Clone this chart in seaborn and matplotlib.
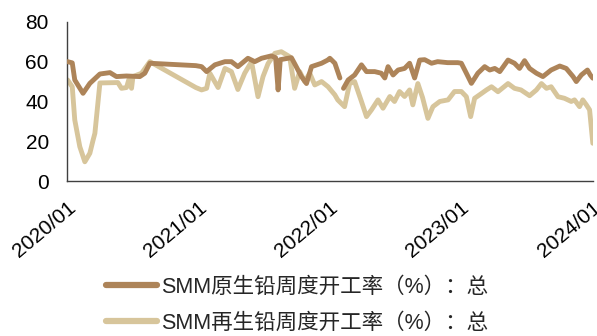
import numpy as np
import pandas as pd
import seaborn as sns
import matplotlib.pyplot as plt
import matplotlib.dates as mdates

# 原生铅周度开工率
primary_dates = [
    '2020-01-03', '2020-01-16', '2020-01-23', '2020-02-15', '2020-03-05', '2020-04-02',
    '2020-04-30', '2020-05-18', '2020-06-15', '2020-07-22', '2020-08-05', '2020-08-19',
    '2020-12-25', '2021-01-10', '2021-01-24', '2021-02-16', '2021-03-16', '2021-04-03',
    '2021-04-21', '2021-05-19', '2021-06-07', '2021-06-26', '2021-07-23', '2021-08-04',
    '2021-08-11', '2021-08-17', '2021-09-17', '2021-09-26', '2021-10-15', '2021-10-29',
    '2021-11-12', '2021-12-10', '2021-12-27', '2022-01-02', '2022-01-16', '2022-01-30',
    '2022-02-04', '2022-02-09', '2022-02-22', '2022-03-12', '2022-03-31', '2022-04-14',
    '2022-05-07', '2022-05-25', '2022-06-04', '2022-06-13', '2022-06-27', '2022-07-11',
    '2022-07-29', '2022-08-12', '2022-08-26', '2022-09-09', '2022-09-23', '2022-10-12',
    '2022-10-29', '2022-11-26', '2022-12-24', '2023-01-03', '2023-01-17', '2023-01-31',
    '2023-02-18', '2023-03-09', '2023-03-23', '2023-04-06', '2023-04-20', '2023-05-13',
    '2023-05-31', '2023-06-14', '2023-06-28', '2023-07-12', '2023-07-31', '2023-08-18',
    '2023-09-10', '2023-10-04', '2023-10-22', '2023-11-10', '2023-11-19', '2023-12-03',
    '2023-12-20', '2023-12-28', '2024-01-04',
]
primary_vals = [
    60.0, 59.4, 50.8, 44.1, 49.1, 53.8,
    54.5, 52.5, 52.8, 52.5, 54.2, 59.2,
    58.0, 57.5, 55.0, 58.4, 60.0, 60.0,
    57.5, 61.7, 60.0, 61.7, 62.9, 62.0,
    45.8, 61.0, 62.0, 59.0, 52.5, 49.0,
    57.5, 59.2, 60.8, 61.7, 59.2, 51.8,
    np.nan, 46.6, 50.8, 53.3, 58.4, 55.0,
    55.0, 54.2, 51.8, 57.5, 53.3, 55.8,
    56.6, 59.2, 51.8, 60.8, 61.0, 59.2,
    60.0, 59.5, 59.5, 59.2, 54.2, 49.1,
    54.2, 57.5, 55.8, 56.6, 55.0, 60.8,
    59.2, 56.6, 60.5, 56.6, 54.2, 52.5,
    55.8, 57.8, 56.6, 52.5, 50.0, 53.3,
    55.8, 53.3, 51.7,
]

# 再生铅周度开工率
secondary_dates = [
    '2020-01-03', '2020-01-16', '2020-01-23', '2020-02-06', '2020-02-20', '2020-03-05',
    '2020-03-14', '2020-03-19', '2020-04-02', '2020-05-22', '2020-06-01', '2020-06-15',
    '2020-06-24', '2020-06-29', '2020-07-03', '2020-07-27', '2020-08-19', '2020-12-25',
    '2021-01-10', '2021-01-24', '2021-02-02', '2021-02-25', '2021-03-16', '2021-04-03',
    '2021-04-21', '2021-05-10', '2021-05-29', '2021-06-16', '2021-06-30', '2021-07-14',
    '2021-08-02', '2021-08-20', '2021-09-12', '2021-09-26', '2021-10-10', '2021-10-24',
    '2021-11-07', '2021-11-21', '2021-12-10', '2021-12-28', '2022-01-16', '2022-01-24',
    '2022-02-12', '2022-02-26', '2022-03-12', '2022-03-31', '2022-04-14', '2022-04-28',
    '2022-05-16', '2022-05-30', '2022-06-18', '2022-07-01', '2022-07-15', '2022-07-29',
    '2022-08-12', '2022-08-21', '2022-09-04', '2022-09-17', '2022-10-02', '2022-10-16',
    '2022-11-04', '2022-11-27', '2022-12-15', '2023-01-03', '2023-01-17', '2023-01-29',
    '2023-02-09', '2023-02-28', '2023-03-14', '2023-03-28', '2023-04-15', '2023-05-13',
    '2023-05-31', '2023-06-18', '2023-07-12', '2023-07-31', '2023-08-14', '2023-08-28',
    '2023-09-10', '2023-09-29', '2023-10-17', '2023-11-05', '2023-11-14', '2023-11-28',
    '2023-12-07', '2023-12-17', '2023-12-26', '2024-01-04',
]
secondary_vals = [
    50.8, 47.4, 30.7, 17.3, 9.7, 14.0,
    20.6, 24.0, 49.3, 49.5, 46.6, 47.0,
    52.5, 46.6, 52.5, 54.2, 60.0, 47.0,
    45.8, 46.6, 54.2, 47.0, 56.6, 55.0,
    46.0, 54.2, 60.0, 42.4, 52.5, 59.0,
    64.2, 65.0, 62.5, 46.6, 55.0, 50.0,
    54.2, 48.3, 50.0, 47.4, 43.3, 40.8,
    37.4, 49.0, 50.0, 40.0, 32.4, 35.8,
    40.8, 36.6, 42.5, 40.0, 45.0, 42.5,
    45.8, 38.3, 49.0, 42.0, 31.5, 37.4,
    40.0, 40.8, 45.0, 45.0, 42.4, 32.4,
    41.6, 44.0, 45.8, 47.4, 44.9, 49.0,
    46.6, 45.8, 42.9, 45.8, 49.0, 46.6,
    47.4, 42.4, 41.6, 40.0, 40.8, 37.4,
    40.8, 38.3, 35.8, 19.0,
]

labels = ['SMM原生铅周度开工率（%）：总', 'SMM再生铅周度开工率（%）：总']
colors = ['#AD8459', '#D7C59B']
tick_dates = ['2020-01-01', '2021-01-01', '2022-01-01', '2023-01-01', '2024-01-01']
y_ticks = [0, 20, 40, 60, 80]

sns.set_style('white')
plt.rcParams['font.family'] = ['Liberation Sans', 'Noto Sans CJK SC', 'DejaVu Sans']

df1 = pd.DataFrame({'date': pd.to_datetime(primary_dates), 'value': primary_vals})
df2 = pd.DataFrame({'date': pd.to_datetime(secondary_dates), 'value': secondary_vals})

fig = plt.figure(figsize=(5.97, 3.36), dpi=100)
ax = fig.add_axes([0.112, 0.461, 0.881, 0.474])

# primary series drawn in its pieces so the missing week shows as a gap
seg = df1['value'].isna().cumsum()
for i, (_, part) in enumerate(df1.dropna().groupby(seg[df1['value'].notna()])):
    sns.lineplot(data=part, x='date', y='value', ax=ax, color=colors[0], lw=3.5,
                 estimator=None, sort=False, label=labels[0] if i == 0 else None, zorder=3)
sns.lineplot(data=df2, x='date', y='value', ax=ax, color=colors[1], lw=3.5,
             estimator=None, sort=False, label=labels[1], zorder=2)

ax.set_ylim(0, 80)
ax.set_yticks(y_ticks)
ax.set_xlim(pd.Timestamp('2020-01-01'), pd.Timestamp('2024-01-04'))
ax.set_xticks(pd.to_datetime(tick_dates))
ax.xaxis.set_major_formatter(mdates.DateFormatter('%Y/%m'))
ax.set_xlabel('')
ax.set_ylabel('')

for s in ['top', 'right']:
    ax.spines[s].set_visible(False)
for s in ['left', 'bottom']:
    ax.spines[s].set_color('#404040')
    ax.spines[s].set_linewidth(1.0)

ax.tick_params(axis='both', which='major', direction='in', length=5, width=1,
               color='#404040', labelsize=15, labelcolor='black')
ax.tick_params(axis='y', pad=13)
ax.tick_params(axis='x', pad=12)
for lab in ax.get_xticklabels():
    lab.set_rotation(40)
    lab.set_ha('right')
    lab.set_va('top')
    lab.set_rotation_mode('anchor')

handles, labs = ax.get_legend_handles_labels()
ax.get_legend().remove()
leg = fig.legend(handles, labs, loc='lower center', bbox_to_anchor=(0.497, -0.05),
                 ncol=1, frameon=False, fontsize=15.5, handlelength=2.4,
                 handletextpad=0.15, labelspacing=0.7)
for h in leg.get_lines():
    h.set_linewidth(4.5)
    h.set_solid_capstyle('round')

fig.savefig('out.png', dpi=100)
